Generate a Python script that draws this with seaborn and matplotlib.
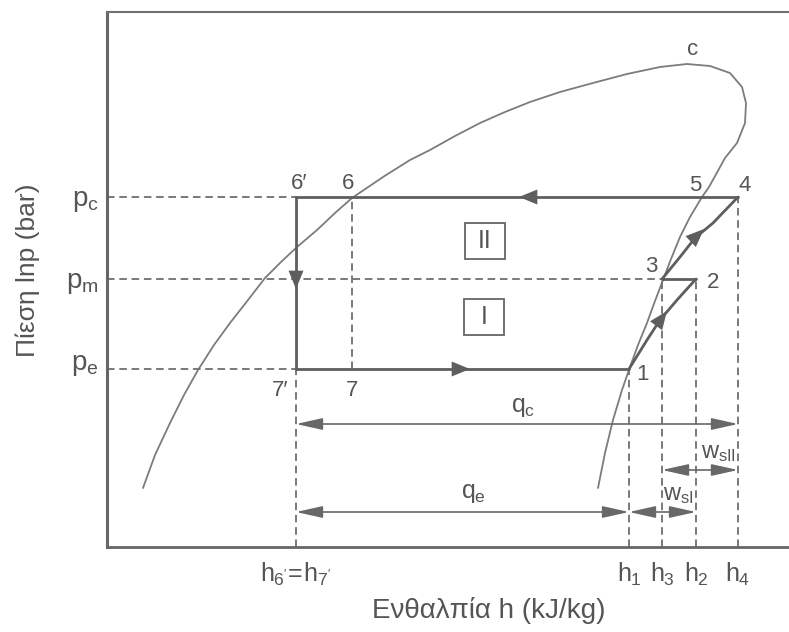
import matplotlib
matplotlib.use("Agg")
import matplotlib.pyplot as plt
import matplotlib.transforms as mtransforms
from matplotlib.patches import Rectangle
import pandas as pd
import seaborn as sns

# Saturation dome (enthalpy h, ln p) in diagram units; critical point near the top
dome_h = [143, 155, 170, 184, 198, 214, 230, 248, 265, 281, 297, 317, 335, 352, 383, 410,
          430, 455, 480, 505, 530, 560, 593, 627, 660, 687, 710, 730, 742, 746, 745,
          737, 725, 709, 702, 690, 680, 671, 663, 655, 647, 638, 630, 622, 613, 605, 598]
dome_p = [144, 177, 209, 237, 262, 287, 309, 332, 354, 370, 385, 402, 419, 434, 455, 472,
          482, 496, 509, 520, 530, 540, 549, 558, 565, 568, 566, 559, 545, 529, 509,
          489, 474, 445, 435, 415, 395, 373, 352, 331, 309, 287, 265, 242, 212, 179, 144]

# Pressure levels
p_e, p_m, p_c = 263, 353, 435
# Enthalpies of the cycle states
h_6p, h_6, h_1, h_3, h_2, h_4 = 296, 352, 629, 662, 696, 738

# Compression paths: stage I (1 -> 2) and stage II (3 -> 4)
comp1_h = [629, 647, 660, 677, 696]
comp1_p = [263, 292, 312, 332, 353]
comp2_h = [662, 680, 695, 713, 738]
comp2_p = [353, 375, 394, 409, 435]

x_ticks = [h_6p, h_1, h_3, h_2, h_4]
x_ticklabels = [r"$h_{6'}\!=\!h_{7'}$", r"$h_1$", r"$h_3$", r"$h_2$", r"$h_4$"]
y_ticks = [p_e, p_m, p_c]
y_ticklabels = [r"$p_e$", r"$p_m$", r"$p_c$"]

sns.set_theme(style="white")
plt.rcParams["font.family"] = ["Liberation Sans", "DejaVu Sans"]
plt.rcParams["mathtext.fontset"] = "custom"
plt.rcParams["mathtext.rm"] = "Liberation Sans"
plt.rcParams["mathtext.it"] = "Liberation Sans"
plt.rcParams["mathtext.bf"] = "Liberation Sans"

W, H = 789, 632
fig = plt.figure(figsize=(W / 100, H / 100), dpi=100)
ax_w = (W - 107) / W + 0.01
ax = fig.add_axes([107 / W, (H - 547) / H, ax_w, (547 - 12) / H])
x_lo, x_hi = 107, 107 + ax_w * W
y_lo, y_hi = H - 547, H - 12
ax.set_xlim(x_lo, x_hi)
ax.set_ylim(y_lo, y_hi)

dome_c = "#7c7c7c"
cyc_c = "#5e5e5e"
dim_c = "#686868"
txt_c = "#555555"
dash = dict(color="#6e6e6e", lw=1.3, ls=(0, (4.2, 2.6)))

# Saturation dome
dome = pd.DataFrame({"h": dome_h, "p": dome_p})
sns.lineplot(data=dome, x="h", y="p", sort=False, estimator=None, ax=ax,
             color=dome_c, lw=1.3)

# Dashed guide lines to the axes
ax.plot([x_lo, h_6p], [p_c, p_c], **dash)
ax.plot([x_lo, h_3], [p_m, p_m], **dash)
ax.plot([x_lo, h_6p], [p_e, p_e], **dash)
ax.plot([h_6, h_6], [p_e, p_c], **dash)
for h, p in [(h_6p, p_e), (h_1, p_e), (h_3, p_m), (h_2, p_m), (h_4, p_c)]:
    ax.plot([h, h], [y_lo, p], **dash)

# Cycle
lw = 2.0
ax.plot([h_4, h_6p], [p_c, p_c], color=cyc_c, lw=lw)
ax.plot([h_6p, h_6p], [p_c, p_e], color=cyc_c, lw=lw)
ax.plot([h_6p, h_1], [p_e, p_e], color=cyc_c, lw=lw)
ax.plot([h_3, h_2], [p_m, p_m], color=cyc_c, lw=lw)
ax.plot(comp1_h, comp1_p, color=cyc_c, lw=lw)
ax.plot(comp2_h, comp2_p, color=cyc_c, lw=lw)


def head(tip, tail):
    ax.annotate("", xy=tip, xytext=tail,
                arrowprops=dict(arrowstyle="-|>,head_length=1.1,head_width=0.45",
                                color=cyc_c, lw=0, shrinkA=0, shrinkB=0))


head((519, p_c), (545, p_c))
head((h_6p, p_m - 10), (h_6p, p_m + 12))
head((470, p_e), (446, p_e))
head((667, 321), (650, 298))
head((704, 403), (686, 386))


def dim(y, x0, x1):
    ax.annotate("", xy=(x0, y), xytext=(x1, y),
                arrowprops=dict(arrowstyle="<|-|>,head_length=1.35,head_width=0.3",
                                color=dim_c, lw=1.2, shrinkA=0, shrinkB=0))


dim(208, h_6p, h_4)
dim(120, h_6p, h_1)
dim(120, h_1, h_2)
dim(162, h_3, h_4)

fs = 16
labels = [("6\u2032", 299, 449), ("6", 348, 449), ("7\u2032", 280, 242), ("7", 352, 242),
          ("5", 695, 447), ("4", 745, 447), ("3", 651, 366), ("2", 713, 350),
          ("1", 643, 258), ("c", 693, 583)]
for s, x, y in labels:
    ax.text(x, y, s, fontsize=fs, color=txt_c, ha="center", va="center")

ax.text(523, 225, r"$q_c$", fontsize=fs + 2, color=txt_c, ha="center", va="center")
ax.text(473, 139, r"$q_e$", fontsize=fs + 2, color=txt_c, ha="center", va="center")
ax.text(678, 137, r"$w_{sI}$", fontsize=fs + 1, color=txt_c, ha="center", va="center")
ax.text(718, 179, r"$w_{sII}$", fontsize=fs + 1, color=txt_c, ha="center", va="center")

# Stage boxes
for (x0, y0), s in [((465, 373), "II"), ((464, 297), "I")]:
    ax.add_patch(Rectangle((x0, y0), 40, 36, fill=True, fc="white", ec="#666666", lw=1.3))
    ax.text(x0 + 20, y0 + 18, s, fontsize=fs + 2, color=txt_c, ha="center", va="center")

ax.set_xticks(x_ticks)
ax.set_xticklabels(x_ticklabels, fontsize=fs + 2, color=txt_c)
ax.set_yticks(y_ticks)
ax.set_yticklabels(y_ticklabels, fontsize=fs + 4, color=txt_c)
ax.tick_params(axis="x", length=0, pad=10)
ax.tick_params(axis="y", length=0, pad=6)
# evaporator pressure label sits a little above its line
pe_lab = ax.get_yticklabels()[0]
pe_lab.set_transform(pe_lab.get_transform()
                     + mtransforms.ScaledTranslation(0, 6 / 72, fig.dpi_scale_trans))

ax.set_xlabel("Ενθαλπία h (kJ/kg)", fontsize=fs + 4, color=txt_c, va="center")
ax.xaxis.set_label_coords((489 - 107) / (x_hi - x_lo), (547 - 611) / 535)
ax.set_ylabel("Πίεση lnp (bar)", fontsize=fs + 3, color=txt_c, va="center")
ax.yaxis.set_label_coords((28 - 107) / (x_hi - x_lo), (547 - 270) / 535)

ax.spines["left"].set_color("#666666")
ax.spines["left"].set_linewidth(2.2)
ax.spines["bottom"].set_color("#666666")
ax.spines["bottom"].set_linewidth(2.0)
ax.spines["top"].set_color("#707070")
ax.spines["top"].set_linewidth(1.5)
ax.spines["right"].set_visible(False)

fig.savefig("out.png", dpi=100)
